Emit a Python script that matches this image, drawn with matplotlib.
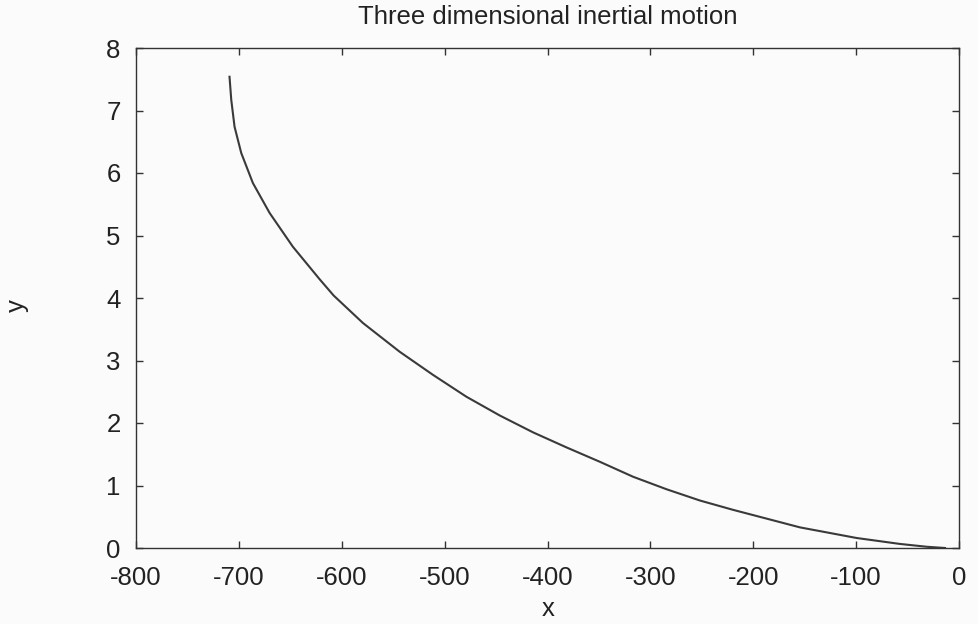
import numpy as np
import matplotlib
matplotlib.use('Agg')
import matplotlib.pyplot as plt

plt.rcParams['font.family'] = ['Liberation Sans', 'DejaVu Sans']
plt.rcParams['axes.unicode_minus'] = False

# trajectory samples (x, y)
x = [-709.1, -707.4, -704.2, -697.7, -686.4, -670.1, -647.5, -621.5, -607.9,
     -579.4, -543.7, -511.3, -478.8, -446.4, -414.0, -381.6, -349.2, -316.8,
     -284.3, -251.9, -219.5, -187.0, -154.6, -99.5, -57.4, -31.4, -13.6]
y = [7.54, 7.17, 6.74, 6.32, 5.84, 5.36, 4.82, 4.30, 4.04,
     3.60, 3.14, 2.77, 2.42, 2.12, 1.85, 1.61, 1.38, 1.14,
     0.94, 0.76, 0.61, 0.47, 0.33, 0.16, 0.065, 0.02, 0.0]

xticks = [-800, -700, -600, -500, -400, -300, -200, -100, 0]
yticks = [0, 1, 2, 3, 4, 5, 6, 7, 8]

W, H = 979, 624
fig = plt.figure(figsize=(W / 100, H / 100), dpi=100)
fig.patch.set_facecolor('#fbfbfb')
ax = fig.add_axes([136 / W, (H - 548) / H, 823 / W, 500 / H])
ax.set_facecolor('#fbfbfb')

ax.plot(x, y, color='#3a3a3a', lw=1.5)

ax.set_xlim(-800, 0)
ax.set_ylim(0, 8)
ax.set_xticks(xticks)
ax.set_yticks(yticks)
ax.tick_params(direction='in', length=5, width=1, colors='#333333',
               top=True, right=True, labelsize=18.5)
ax.tick_params(axis='x', pad=13)
ax.tick_params(axis='y', pad=11)
for lbl in ax.get_xticklabels() + ax.get_yticklabels():
    lbl.set_color('#222222')
for s in ax.spines.values():
    s.set_color('#333333')
    s.set_linewidth(1)

fig.text(548 / W, 1 - 17 / H, 'Three dimensional inertial motion', fontsize=18.5,
         color='#222222', ha='center', va='center')
fig.text(548 / W, 1 - 609 / H, 'x', fontsize=18.5, color='#222222',
         ha='center', va='center')
fig.text(17 / W, 1 - 306 / H, 'y', fontsize=18.5, color='#222222',
         ha='center', va='center', rotation=90)

fig.savefig('out.png', dpi=100, facecolor=fig.get_facecolor())
